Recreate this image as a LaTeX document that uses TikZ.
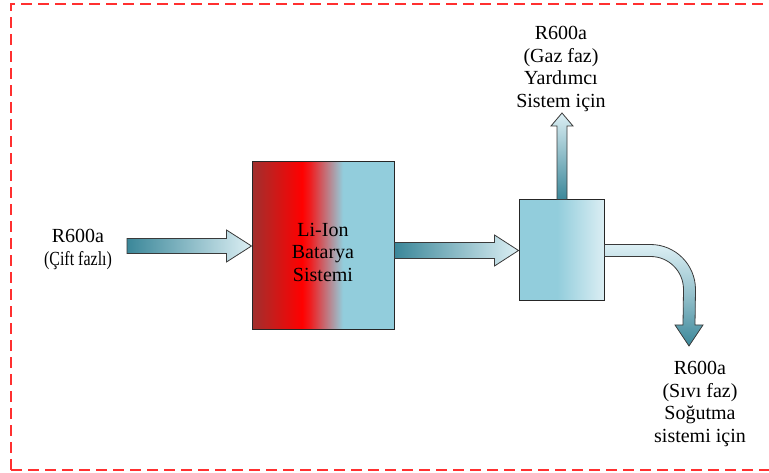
\documentclass[tikz,border=0pt]{standalone}
\usepackage{fontspec}
\setmainfont{Liberation Serif}
\usetikzlibrary{calc}
\definecolor{tealdark}{HTML}{3B8799}
\definecolor{teallight}{HTML}{DCEFF4}
\definecolor{bluebox}{HTML}{92CDDC}
\definecolor{bluelight}{HTML}{DBEEF3}
\definecolor{darkred}{HTML}{A0302E}
\definecolor{dashred}{HTML}{FF3030}
\definecolor{outl}{HTML}{3A3A3A}
\pgfdeclarehorizontalshading{batteryshade}{100bp}{color(0bp)=(darkred); color(25bp)=(darkred); color(42.6bp)=(red); color(45.5bp)=(red!85!bluebox); color(57bp)=(bluebox); color(100bp)=(bluebox)}
\pgfdeclarehorizontalshading{boxshade}{100bp}{color(0bp)=(bluebox); color(25bp)=(bluebox); color(47.4bp)=(bluebox); color(75bp)=(bluelight); color(100bp)=(bluelight)}
\tikzset{
  lbl/.style={font=\fontsize{20}{22.5}\selectfont, align=center, inner sep=0pt},
  blk/.style={draw=black!85, line width=1pt, inner sep=0pt},
  barrow/.style={draw=outl, line width=0.8pt, line join=miter},
  border/.style={draw=dashred, line width=1.3pt, dash pattern=on 11pt off 6pt}
}
\begin{document}
\begin{tikzpicture}[x=1pt,y=-1pt]
\useasboundingbox (0,0) rectangle (769,473);
\clip (0,0) rectangle (769,473);
% border
\path[border] (11,470) -- (11,4) -- (780,4);
\path[border] (11,470) -- (780,470);
% boxes
\node[blk, shading=batteryshade, shade, minimum width=142pt, minimum height=168pt] (bat) at (323,246) {};
\node[lbl] (battxt) at (323,252) {Li-Ion\\Batarya\\Sistemi};
\node[blk, shading=boxshade, shade, minimum width=85pt, minimum height=101pt] (sep) at (561.5,250.5) {};
% labels
\node[lbl, font=\fontsize{20}{23}\selectfont] (intxt) at (78,249) {R600a\\\scalebox{0.8}[1]{(Çift fazlı)}};
\node[lbl] (gastxt) at (561,69) {R600a\\(Gaz faz)\\Yardımcı\\Sistem için};
\node[lbl] (liqtxt) at (700,404) {R600a\\(Sıvı faz)\\Soğutma\\sistemi için};
% free ends
\coordinate (inA) at (127,246);
\coordinate (gasTip) at (562,113);
% input arrow
\path[barrow, left color=tealdark, right color=teallight]
  ($(inA)+(0,-7.5)$) -- ($(bat.west)+(-25,-7.5)$) -- ($(bat.west)+(-25,-16)$) -- (bat.west)
  -- ($(bat.west)+(-25,16)$) -- ($(bat.west)+(-25,7.5)$) -- ($(inA)+(0,7.5)$) -- cycle;
% battery -> separator
\coordinate (mA) at (bat.east |- sep.west);
\path[barrow, left color=tealdark, right color=teallight]
  ($(mA)+(0,-8)$) -- ($(sep.west)+(-24,-8)$) -- ($(sep.west)+(-24,-15.5)$) -- (sep.west)
  -- ($(sep.west)+(-24,15.5)$) -- ($(sep.west)+(-24,8)$) -- ($(mA)+(0,8)$) -- cycle;
% up arrow
\coordinate (uA) at (sep.north -| gasTip);
\path[barrow, bottom color=tealdark, top color=teallight]
  ($(uA)+(-5,0)$) -- ($(gasTip)+(-5,13)$) -- ($(gasTip)+(-11,13)$) -- (gasTip)
  -- ($(gasTip)+(11,13)$) -- ($(gasTip)+(5,13)$) -- ($(uA)+(5,0)$) -- cycle;
% curved arrow
\coordinate (cA) at (sep.east);
\coordinate (liqTip) at (689,346);
\path[barrow, top color=teallight, bottom color=tealdark, middle color=teallight!55!tealdark]
  ($(cA)+(0,-6)$) -- ($(cA)+(46,-6)$)
  .. controls ($(cA)+(70.85,-6)$) and ($(cA)+(91,14.15)$) .. ($(cA)+(91,39)$)
  -- ($(liqTip)+(6,-21)$) -- ($(liqTip)+(14,-21)$) -- (liqTip) -- ($(liqTip)+(-14,-21)$) -- ($(liqTip)+(-6,-21)$)
  -- ($(cA)+(79,39)$)
  .. controls ($(cA)+(79,20.77)$) and ($(cA)+(64.23,6)$) .. ($(cA)+(46,6)$)
  -- ($(cA)+(0,6)$) -- cycle;
\end{tikzpicture}
\end{document}
